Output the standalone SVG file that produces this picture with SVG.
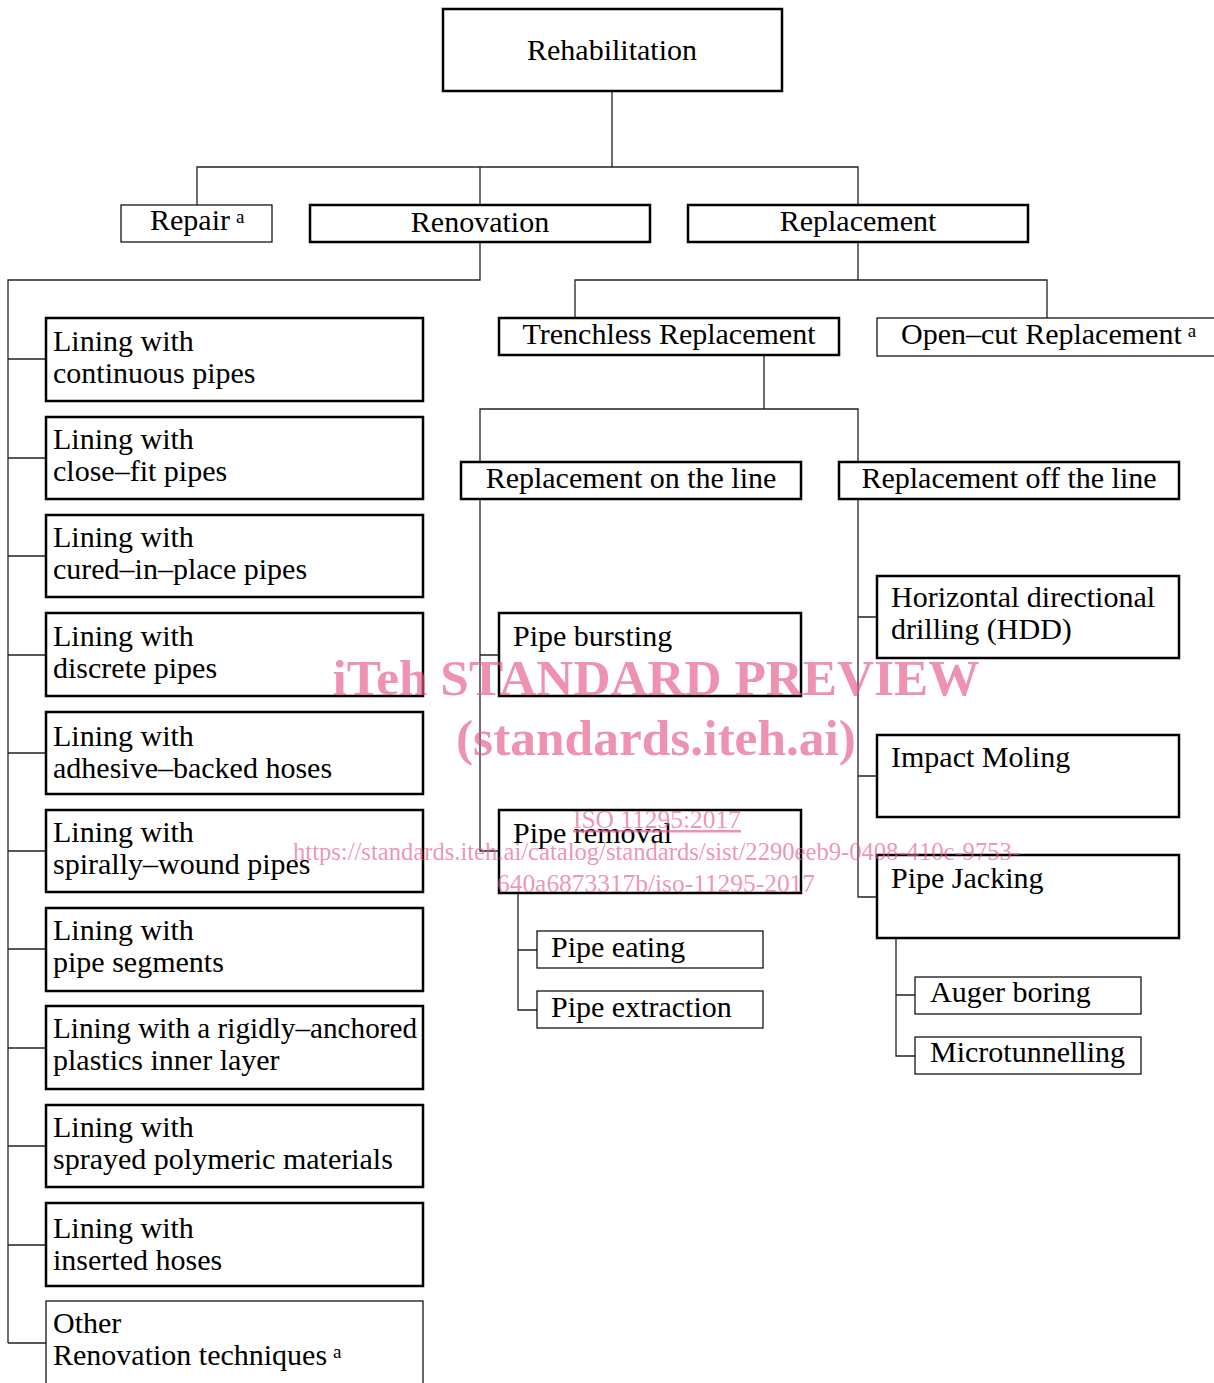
<svg xmlns="http://www.w3.org/2000/svg" width="1214" height="1383" viewBox="0 0 1214 1383">
<style>
  text { font-family: "Liberation Serif", "Times New Roman", serif; font-size: 30px; fill: #000; }
  .c { text-anchor: middle; }
  .sup { font-size: 19px; }
  .bx { fill: #fff; stroke: #000; stroke-width: 2.5; }
  .bt { fill: #fff; stroke: #000; stroke-width: 1.2; }
  #connectors path { fill: none; stroke: #222; stroke-width: 1.3; }
  .wm text { fill: #e5588a; fill-opacity: 0.65; }
  .wmb { font-weight: bold; font-size: 50px; }
  .wms { font-size: 25px; }
</style>
<rect width="1214" height="1383" fill="#fff"/>
<g id="connectors">
  <path d="M612 91V167M197 205V167H858V205M480 167V205"/>
  <path d="M480 242V280H8V1343"/>
  <path d="M8 359H46M8 458H46M8 556H46M8 655H46M8 753H46M8 851H46M8 949H46M8 1048H46M8 1146H46M8 1245H46M8 1343H46"/>
  <path d="M858 242V280M575 318V280H1047V318"/>
  <path d="M764 355V409M480 462V409H858V462"/>
  <path d="M480 499V851H499M480 655H499"/>
  <path d="M858 499V897H877M858 617H877M858 776H877"/>
  <path d="M518 893V1010H537M518 950H537"/>
  <path d="M896 938V1056H915M896 995H915"/>
</g>
<g id="rehabilitation"><rect class="bx" x="443" y="9" width="339" height="82"/><text class="c" x="612" y="60">Rehabilitation</text></g>
<g id="repair"><rect class="bt" x="121" y="205" width="151" height="37"/><text x="150" y="230">Repair<tspan class="sup" dx="6" dy="-7">a</tspan></text></g>
<g id="renovation"><rect class="bx" x="310" y="205" width="340" height="37"/><text class="c" x="480" y="232">Renovation</text></g>
<g id="replacement"><rect class="bx" x="688" y="205" width="340" height="37"/><text class="c" x="858" y="231">Replacement</text></g>
<g id="trenchless"><rect class="bx" x="499" y="318" width="340" height="37"/><text class="c" x="669" y="344">Trenchless Replacement</text></g>
<g id="opencut"><rect class="bt" x="877" y="318" width="345" height="38"/><text x="901" y="344">Open–cut Replacement<tspan class="sup" dx="6" dy="-7">a</tspan></text></g>
<g id="online"><rect class="bx" x="461" y="462" width="340" height="37"/><text class="c" x="631" y="488">Replacement on the line</text></g>
<g id="offline"><rect class="bx" x="839" y="462" width="340" height="37"/><text class="c" x="1009" y="488">Replacement off the line</text></g>
<g id="lining1"><rect class="bx" x="46" y="318" width="377" height="83"/><text x="53" y="351">Lining with<tspan x="53" dy="32">continuous pipes</tspan></text></g>
<g id="lining2"><rect class="bx" x="46" y="417" width="377" height="82"/><text x="53" y="449">Lining with<tspan x="53" dy="32">close–fit pipes</tspan></text></g>
<g id="lining3"><rect class="bx" x="46" y="515" width="377" height="82"/><text x="53" y="547">Lining with<tspan x="53" dy="32">cured–in–place pipes</tspan></text></g>
<g id="lining4"><rect class="bx" x="46" y="613" width="377" height="83"/><text x="53" y="646">Lining with<tspan x="53" dy="32">discrete pipes</tspan></text></g>
<g id="lining5"><rect class="bx" x="46" y="712" width="377" height="82"/><text x="53" y="746">Lining with<tspan x="53" dy="32">adhesive–backed hoses</tspan></text></g>
<g id="lining6"><rect class="bx" x="46" y="810" width="377" height="82"/><text x="53" y="842">Lining with<tspan x="53" dy="32">spirally–wound pipes</tspan></text></g>
<g id="lining7"><rect class="bx" x="46" y="908" width="377" height="83"/><text x="53" y="940">Lining with<tspan x="53" dy="32">pipe segments</tspan></text></g>
<g id="lining8"><rect class="bx" x="46" y="1006" width="377" height="83"/><text x="53" y="1038" textLength="364" lengthAdjust="spacingAndGlyphs">Lining with a rigidly–anchored</text><text x="53" y="1070">plastics inner layer</text></g>
<g id="lining9"><rect class="bx" x="46" y="1105" width="377" height="82"/><text x="53" y="1137">Lining with<tspan x="53" dy="32">sprayed polymeric materials</tspan></text></g>
<g id="lining10"><rect class="bx" x="46" y="1203" width="377" height="83"/><text x="53" y="1238">Lining with<tspan x="53" dy="32">inserted hoses</tspan></text></g>
<g id="other"><rect class="bt" x="46" y="1301" width="377" height="100"/><text x="53" y="1333">Other<tspan x="53" dy="32">Renovation techniques</tspan><tspan class="sup" dx="6" dy="-7">a</tspan></text></g>
<g id="bursting"><rect class="bx" x="499" y="613" width="302" height="83"/><text x="513" y="646">Pipe bursting</text></g>
<g id="removal"><rect class="bx" x="499" y="810" width="302" height="83"/><text x="513" y="843">Pipe removal</text></g>
<g id="eating"><rect class="bt" x="537" y="931" width="226" height="37"/><text x="551" y="957">Pipe eating</text></g>
<g id="extraction"><rect class="bt" x="537" y="991" width="226" height="37"/><text x="551" y="1017">Pipe extraction</text></g>
<g id="hdd"><rect class="bx" x="877" y="576" width="302" height="82"/><text x="891" y="607">Horizontal directional<tspan x="891" dy="32">drilling (HDD)</tspan></text></g>
<g id="moling"><rect class="bx" x="877" y="735" width="302" height="82"/><text x="891" y="767">Impact Moling</text></g>
<g id="jacking"><rect class="bx" x="877" y="855" width="302" height="83"/><text x="891" y="888">Pipe Jacking</text></g>
<g id="auger"><rect class="bt" x="915" y="977" width="226" height="37"/><text x="930" y="1002">Auger boring</text></g>
<g id="micro"><rect class="bt" x="915" y="1037" width="226" height="37"/><text x="930" y="1062">Microtunnelling</text></g>
<g class="wm" id="watermark">
  <text class="wmb c" x="656" y="695" textLength="647" lengthAdjust="spacingAndGlyphs">iTeh STANDARD PREVIEW</text>
  <text class="wmb c" x="656" y="755" textLength="400" lengthAdjust="spacingAndGlyphs">(standards.iteh.ai)</text>
  <text class="wms c" x="657" y="828" textLength="168" lengthAdjust="spacingAndGlyphs" text-decoration="underline">ISO 11295:2017</text>
  <text class="wms" x="293" y="860" textLength="727" lengthAdjust="spacingAndGlyphs">https://standards.iteh.ai/catalog/standards/sist/2290eeb9-0408-410c-9753-</text>
  <text class="wms" x="497" y="892" textLength="318" lengthAdjust="spacingAndGlyphs">640a6873317b/iso-11295-2017</text>
</g>
</svg>
